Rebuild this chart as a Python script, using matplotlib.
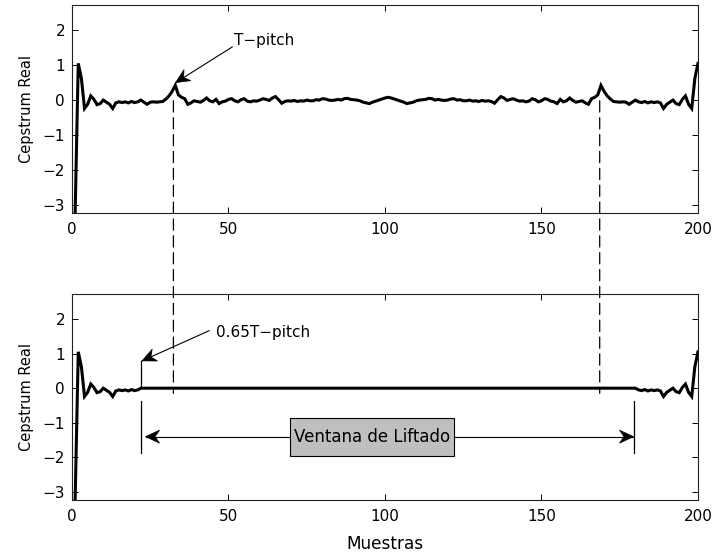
import numpy as np
import matplotlib
matplotlib.use("Agg")
import matplotlib.pyplot as plt
from matplotlib.patches import ConnectionPatch, Rectangle, Polygon

plt.rcParams["font.family"] = ["DejaVu Sans"]
plt.rcParams["axes.unicode_minus"] = True

# Sample index (1-based, as in the original analysis)
muestras = np.arange(1, 201)

# Real cepstrum of a voiced speech frame
cepstrum = [
    -3.23, 1.05, 0.62, -0.24, -0.12, 0.12, 0.02, -0.13, -0.10, 0.00,
    -0.06, -0.12, -0.24, -0.08, -0.05, -0.07, -0.05, -0.08, -0.04, -0.07,
    -0.05, 0.00, -0.06, -0.12, -0.06, -0.05, -0.06, -0.05, -0.04, 0.03,
    0.12, 0.25, 0.42, 0.15, 0.08, 0.04, -0.12, -0.08, -0.02, -0.04,
    -0.06, -0.01, 0.06, -0.02, -0.05, 0.02, -0.10, -0.05, -0.03, 0.02,
    0.04, -0.02, -0.05, 0.01, 0.04, -0.03, -0.05, -0.02, -0.03, 0.00,
    0.04, 0.02, -0.01, 0.06, 0.10, 0.01, -0.09, -0.04, -0.02, -0.03,
    -0.01, -0.04, -0.02, -0.03, 0.00, -0.02, -0.02, 0.01, 0.00, 0.04,
    0.03, 0.00, -0.01, 0.00, 0.02, 0.00, 0.04, 0.05, 0.02, 0.01,
    0.00, -0.02, -0.06, -0.08, -0.10, -0.06, -0.03, 0.00, 0.03, 0.06,
    0.08,
    0.06, 0.03, 0.00, -0.03, -0.06, -0.10, -0.08, -0.06, -0.02,
    0.00, 0.01, 0.02, 0.05, 0.04, 0.00, 0.02, 0.00, -0.01, 0.00,
    0.03, 0.04, 0.00, 0.01, -0.02, -0.02, 0.00, -0.03, -0.02, -0.04,
    -0.01, -0.03, -0.02, -0.04, -0.09, 0.01, 0.10, 0.06, -0.01, 0.02,
    0.04, 0.00, -0.03, -0.02, -0.05, -0.03, 0.04, 0.01, -0.05, -0.02,
    0.04, 0.02, -0.03, -0.05, -0.10, 0.02, -0.05, -0.02, 0.06, -0.01,
    -0.06, -0.04, -0.02, -0.08, -0.12, 0.04, 0.08, 0.15, 0.42, 0.25,
    0.12, 0.03, -0.04, -0.05, -0.06, -0.05, -0.06, -0.12, -0.06, 0.00,
    -0.05, -0.07, -0.04, -0.08, -0.05, -0.07, -0.05, -0.08, -0.24, -0.12,
    -0.06, 0.00, -0.10, -0.13, 0.02, 0.12, -0.12, -0.24, 0.62, 1.05,
]
cepstrum = np.array(cepstrum)

# Pitch period markers and liftering window
t_pitch = [32.4, 168.6]
lifter_n = 21                      # coefficients kept at each end
ventana = [22.0, 179.6]            # window edges drawn on the lower plot

xticks = [0, 50, 100, 150, 200]
yticks = [-3, -2, -1, 0, 1, 2]
xlim = (0, 200)
ylim = (-3.23, 2.72)

# Low-quefrency lifter: keep the first/last coefficients, zero the rest
keep = (muestras <= lifter_n) | (muestras >= 202 - lifter_n)
liftered = np.where(keep, cepstrum, 0.0)

fig = plt.figure(figsize=(7.15, 5.56), dpi=100)
ax1 = fig.add_axes([0.1007, 0.6169, 0.8755, 0.3741])
ax2 = fig.add_axes([0.1007, 0.1007, 0.8755, 0.3705])

for ax, serie in ((ax1, cepstrum), (ax2, liftered)):
    ax.plot(muestras, serie, color="black", lw=2.2, solid_joinstyle="miter")
    ax.set_xlim(*xlim)
    ax.set_ylim(*ylim)
    ax.set_xticks(xticks)
    ax.set_yticks(yticks)
    ax.tick_params(direction="in", top=True, right=True, length=4.5,
                   width=0.7, labelsize=11, colors="black")
    ax.tick_params(axis="x", pad=6.5)
    ax.tick_params(axis="y", pad=5)
    for s in ax.spines.values():
        s.set_linewidth(0.8)
        s.set_color("#222222")
    ax.set_ylabel("Cepstrum Real", fontsize=10.5)
    ax.yaxis.set_label_coords(-0.061, 0.5)

ax2.set_xlabel("Muestras", fontsize=12.2)
ax2.xaxis.set_label_coords(0.5, -0.17)

# Dashed guides linking the pitch peaks across both plots
for xp in t_pitch:
    con = ConnectionPatch(xyA=(xp, -0.02), coordsA=ax1.transData,
                          xyB=(xp, -0.15), coordsB=ax2.transData,
                          color="black", lw=0.9, linestyle=(0, (9, 4.5)))
    fig.add_artist(con)


def punta(ax, desde, hacia, largo=14.0, ancho=13.0):
    """Filled arrowhead with a notched back, pointing from `desde` to `hacia`."""
    p0 = ax.transData.transform(desde)
    p1 = ax.transData.transform(hacia)
    u = (p0 - p1) / np.hypot(*(p0 - p1))
    n = np.array([-u[1], u[0]])
    pts = [p1,
           p1 + largo * u + 0.5 * ancho * n,
           p1 + 0.68 * largo * u,
           p1 + largo * u - 0.5 * ancho * n]
    pts = fig.transFigure.inverted().transform(pts)
    fig.add_artist(Polygon(pts, closed=True, transform=fig.transFigure,
                           facecolor="black", edgecolor="black", lw=0.5,
                           zorder=6))


def flecha(ax, desde, hacia, doble=False):
    ax.plot([desde[0], hacia[0]], [desde[1], hacia[1]], color="black",
            lw=0.8, clip_on=False, zorder=3)
    punta(ax, desde, hacia)
    if doble:
        punta(ax, hacia, desde)


# T-pitch label on the upper cepstrum
ax1.text(51.8, 1.71, "T\u2212pitch", fontsize=11, ha="left", va="center")
flecha(ax1, (51.2, 1.52), (33.1, 0.50))

# Liftering window edges
ax2.plot([ventana[0], ventana[0]], [0.0, 0.79], color="black", lw=0.9)
ax2.plot([ventana[0], ventana[0]], [-0.38, -1.86], color="black", lw=0.9)
ax2.plot([ventana[1], ventana[1]], [-0.38, -1.86], color="black", lw=0.9)

ax2.text(46.1, 1.61, "0.65T\u2212pitch", fontsize=11, ha="left",
         va="center")
flecha(ax2, (43.8, 1.66), (ventana[0] + 0.4, 0.79))

flecha(ax2, (ventana[0] + 1.5, -1.40), (ventana[1] - 0.2, -1.40), doble=True)

box = Rectangle((69.8, -1.95), 52.4, 1.10, facecolor="#bfbfbf",
                edgecolor="black", lw=0.8, zorder=4)
ax2.add_patch(box)
ax2.text(96.0, -1.40, "Ventana de Liftado", fontsize=12, ha="center",
         va="center", zorder=5)

fig.savefig("out.png", dpi=100)
